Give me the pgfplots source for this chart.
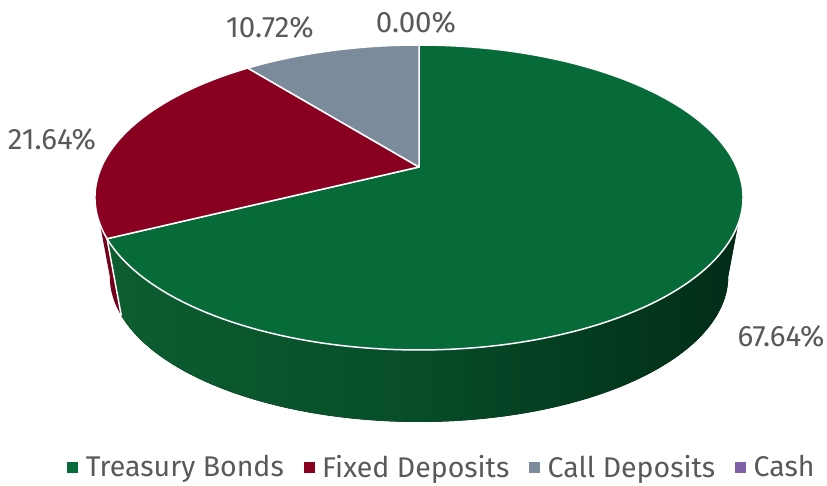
\documentclass[border=0pt]{standalone}
\usepackage{pgfplots}
\usepackage{pgfplotstable}
\pgfplotsset{compat=1.18}
\usepgfplotslibrary{fillbetween}
\usepackage{fontspec}
\setmainfont{Fira Sans}
\definecolor{cTB}{HTML}{066B38}
\definecolor{cFD}{HTML}{8A0021}
\definecolor{cCD}{HTML}{7B8B9C}
\definecolor{cCash}{HTML}{7F62A6}
\definecolor{cTxt}{HTML}{595959}
\definecolor{gL}{HTML}{0D5E31}
\definecolor{gM}{HTML}{064C28}
\definecolor{gR}{HTML}{012C17}
\definecolor{rSide}{HTML}{74001B}

\pgfplotstableread[col sep=comma]{
name,value
Treasury Bonds,67.64
Fixed Deposits,21.64
Call Deposits,10.72
Cash,0.00
}\shares

% perspective projection of the pie disk (top face and bottom face), pixel units
\pgfmathdeclarefunction{TX}{1}{\pgfmathparse{419+317.5*cos(#1)/(1+0.2*sin(#1))}}
\pgfmathdeclarefunction{TY}{1}{\pgfmathparse{-167+146.4*sin(#1)/(1+0.2*sin(#1))}}
\pgfmathdeclarefunction{BX}{1}{\pgfmathparse{419+303*cos(#1)/(1+0.2*sin(#1))}}
\pgfmathdeclarefunction{BY}{1}{\pgfmathparse{-247.2+139.8*sin(#1)/(1+0.2*sin(#1))}}

\begin{document}
\begin{tikzpicture}
\pgfplotstablegetelem{0}{value}\of\shares \let\vA\pgfplotsretval
\pgfplotstablegetelem{1}{value}\of\shares \let\vB\pgfplotsretval
\pgfplotstablegetelem{2}{value}\of\shares \let\vC\pgfplotsretval
\pgfplotstablegetelem{3}{value}\of\shares \let\vD\pgfplotsretval
\pgfmathsetmacro\aA{90}
\pgfmathsetmacro\aB{\aA-3.6*\vA}
\pgfmathsetmacro\aC{\aB-3.6*\vB}
\pgfmathsetmacro\aD{\aC-3.6*\vC}
\def\vmin{-168.5}\def\vmax{-11.5}
\pgfmathsetmacro\gS{max(\aB,\vmin)}
\pgfmathsetmacro\gE{min(\aA,\vmax)}
\pgfmathsetmacro\rS{max(\aC,\vmin)}
\pgfmathsetmacro\rE{min(\aB,\vmax)}
\pgfmathsetmacro\lx{TX(\aB)}
\pgfmathsetmacro\ly{TY(\aB)}
\pgfmathsetmacro\lbx{BX(\aB)}
\pgfmathsetmacro\lby{BY(\aB)}
\begin{axis}[
  scale only axis, width=827bp, height=486bp,
  xmin=0, xmax=827, ymin=-486, ymax=0,
  hide axis, clip=false,
  legend columns=4,
  legend style={draw=none, fill=none, at={(axis cs:442,-467)}, anchor=center,
    font=\fontsize{28.5bp}{32bp}\selectfont, text=cTxt,
    /tikz/every even column/.append style={column sep=18bp}},
  legend cell align=left,
]
\addlegendimage{legend image code/.code={\fill[cTB] (0bp,-5bp) rectangle (10bp,5bp); \path (16bp,0);}}
\addlegendentry{Treasury Bonds}
\addlegendimage{legend image code/.code={\fill[cFD] (0bp,-5bp) rectangle (10bp,5bp); \path (16bp,0);}}
\addlegendentry{Fixed Deposits}
\addlegendimage{legend image code/.code={\fill[cCD] (0bp,-5bp) rectangle (10bp,5bp); \path (16bp,0);}}
\addlegendentry{Call Deposits}
\addlegendimage{legend image code/.code={\fill[cCash] (0bp,-5bp) rectangle (10bp,5bp); \path (16bp,0);}}
\addlegendentry{Cash}

% side walls
\addplot[forget plot, draw=none, name path=gtop, domain=\gS:\gE, samples=90, variable=\t] ({TX(\t)},{TY(\t)});
\addplot[forget plot, draw=none, name path=gbot, domain=\gS:\gE, samples=90, variable=\t] ({BX(\t)},{BY(\t)});
\addplot[forget plot, draw=none, left color=gL, right color=gR, middle color=gM] fill between[of=gtop and gbot];
\addplot[forget plot, draw=none, name path=rtop, domain=\rS:\rE, samples=20, variable=\t] ({TX(\t)},{TY(\t)});
\addplot[forget plot, draw=none, name path=rbot, domain=\rS:\rE, samples=20, variable=\t] ({BX(\t)},{BY(\t)});
\addplot[forget plot, draw=none, fill=rSide] fill between[of=rtop and rbot];
\draw[white, line width=1.5bp] (axis cs:\lx,\ly) -- (axis cs:\lbx,\lby);

% top faces
\addplot[forget plot, fill=cTB, draw=white, line width=1.5bp, line join=round, domain=\aB:\aA, samples=150, variable=\t] ({TX(\t)},{TY(\t)}) -- (axis cs:419,-167) -- cycle;
\addplot[forget plot, fill=cFD, draw=white, line width=1.5bp, line join=round, domain=\aC:\aB, samples=60, variable=\t] ({TX(\t)},{TY(\t)}) -- (axis cs:419,-167) -- cycle;
\addplot[forget plot, fill=cCD, draw=white, line width=1.5bp, line join=round, domain=\aD:\aC, samples=40, variable=\t] ({TX(\t)},{TY(\t)}) -- (axis cs:419,-167) -- cycle;

% data labels
\begin{scope}[every node/.style={font=\fontsize{29.5bp}{33bp}\selectfont, text=cTxt}]
\node at (axis cs:781,-336) {67.64\%};
\node at (axis cs:52,-139) {21.64\%};
\node at (axis cs:270,-27) {10.72\%};
\node at (axis cs:416,-22) {0.00\%};
\end{scope}
\end{axis}
\pgfresetboundingbox
\path[use as bounding box] (0,0) rectangle (827bp,486bp);
\end{tikzpicture}
\end{document}
